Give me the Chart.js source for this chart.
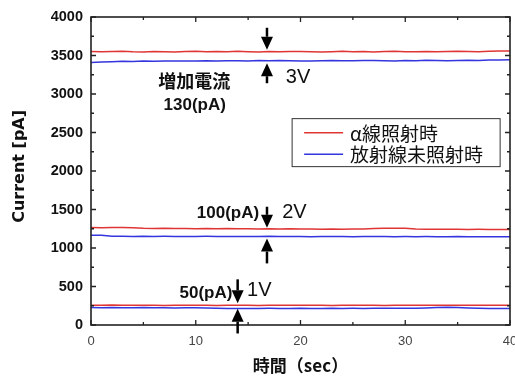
<!DOCTYPE html>
<html>
<head>
<meta charset="utf-8">
<script src="https://cdn.jsdelivr.net/npm/chart.js@4"></script>
<style>
  html, body { margin: 0; padding: 0; background: #fff; }
  #wrap { width: 515px; height: 376px; }
</style>
</head>
<body>
<div id="wrap"><canvas id="chart"></canvas></div>
<script>
// time axis (sec), one reading per second
const times = [0,1,2,3,4,5,6,7,8,9,10,11,12,13,14,15,16,17,18,19,20,21,22,23,24,25,26,27,28,29,30,31,32,33,34,35,36,37,38,39,40];

// 3V
const alpha3V = [3552,3548,3551,3555,3549,3547,3553,3550,3546,3552,3556,3549,3551,3548,3554,3550,3547,3552,3549,3553,3551,3548,3545,3550,3554,3549,3552,3547,3551,3555,3550,3548,3553,3549,3551,3556,3552,3549,3554,3557,3558];
const dark3V  = [3408,3415,3420,3424,3423,3427,3425,3429,3428,3430,3427,3432,3430,3433,3431,3429,3434,3432,3436,3433,3430,3428,3432,3435,3433,3431,3434,3436,3432,3430,3435,3433,3437,3434,3432,3436,3438,3435,3440,3442,3445];
// 2V
const alpha2V = [1266,1264,1267,1265,1262,1255,1253,1256,1252,1254,1251,1253,1250,1252,1249,1251,1248,1250,1247,1249,1246,1248,1245,1247,1244,1246,1248,1254,1256,1255,1257,1246,1243,1244,1242,1243,1241,1242,1240,1241,1240];
const dark2V  = [1165,1164,1152,1151,1150,1152,1149,1151,1150,1148,1150,1151,1149,1150,1148,1150,1149,1151,1148,1150,1149,1147,1150,1148,1149,1147,1149,1148,1150,1147,1148,1146,1148,1147,1145,1148,1146,1147,1145,1147,1146];
// 1V
const alpha1V = [258,256,259,257,255,258,256,254,257,255,258,256,254,257,255,256,254,257,255,256,258,255,257,254,256,255,257,256,254,256,255,257,256,258,256,255,257,256,255,257,258];
const dark1V  = [226,224,227,225,223,226,224,225,222,224,223,220,216,214,213,215,214,216,215,213,216,214,215,217,214,216,215,217,216,218,219,217,221,227,229,226,221,217,215,214,213];

const labelAlpha = "α線照射時";
const labelDark = "放射線未照射時";
const yTicks = [0, 500, 1000, 1500, 2000, 2500, 3000, 3500, 4000];
const xTicks = [0, 10, 20, 30, 40];

const RED = "#e03535";
const BLUE = "#3535e0";

// annotation arrows: x in sec, from/to in pA (arrow points at "to")
const arrows = [
  { x: 16.8, from: 3860, to: 3575 },
  { x: 16.8, from: 3140, to: 3400 },
  { x: 16.8, from: 1536, to: 1262 },
  { x: 16.8, from: 800, to: 1122 },
  { x: 14, from: 593, to: 282 },
  { x: 14, from: -110, to: 212 }
];
const BOLD_NUM = "bold 17px 'Liberation Sans', Arial, sans-serif";
const VOLT = "20px 'Liberation Sans', Arial, sans-serif";
const notes = [
  { text: "増加電流", x: 9.85, y: 3162, align: "center", font: "bold 18px 'Noto Sans CJK JP', sans-serif" },
  { text: "130(pA)", x: 9.9, y: 2850, align: "center", font: BOLD_NUM },
  { text: "3V", x: 18.6, y: 3208, align: "left", font: VOLT },
  { text: "100(pA)", x: 16.05, y: 1448, align: "right", font: BOLD_NUM },
  { text: "2V", x: 18.25, y: 1460, align: "left", font: VOLT },
  { text: "50(pA)", x: 13.5, y: 415, align: "right", font: BOLD_NUM },
  { text: "1V", x: 14.9, y: 450, align: "left", font: VOLT }
];

function series(vals) {
  return vals.map((v, i) => ({ x: times[i], y: v }));
}

function line(label, vals, color) {
  return {
    label: label,
    data: series(vals),
    borderColor: color,
    backgroundColor: color,
    borderWidth: 1.5,
    pointRadius: 0,
    tension: 0
  };
}

const frameAndNotes = {
  id: "frameAndNotes",
  afterDatasetsDraw(chart) {
    const ctx = chart.ctx;
    const a = chart.chartArea;
    const xs = chart.scales.x;
    const ys = chart.scales.y;
    ctx.save();

    // frame
    ctx.strokeStyle = "#222";
    ctx.lineWidth = 1.6;
    ctx.strokeRect(a.left, a.top, a.right - a.left, a.bottom - a.top);

    // inward ticks on all four sides
    ctx.lineWidth = 1.3;
    ctx.beginPath();
    for (let v = 0; v <= 4000; v += 250) {
      const p = ys.getPixelForValue(v);
      const len = v % 500 === 0 ? 5 : 3;
      ctx.moveTo(a.left, p); ctx.lineTo(a.left + len, p);
      ctx.moveTo(a.right, p); ctx.lineTo(a.right - len, p);
    }
    for (let v = 0; v <= 40; v += 5) {
      const p = xs.getPixelForValue(v);
      const len = v % 10 === 0 ? 5 : 3;
      ctx.moveTo(p, a.bottom); ctx.lineTo(p, a.bottom - len);
      ctx.moveTo(p, a.top); ctx.lineTo(p, a.top + len);
    }
    ctx.stroke();

    // arrows
    ctx.strokeStyle = "#000";
    ctx.fillStyle = "#000";
    arrows.forEach(ar => {
      const px = xs.getPixelForValue(ar.x);
      const y0 = ys.getPixelForValue(ar.from);
      const y1 = ys.getPixelForValue(ar.to);
      const dir = y1 > y0 ? 1 : -1;
      const head = 13;
      ctx.lineWidth = 2.5;
      ctx.beginPath();
      ctx.moveTo(px, y0);
      ctx.lineTo(px, y1 - dir * head);
      ctx.stroke();
      ctx.beginPath();
      ctx.moveTo(px, y1);
      ctx.lineTo(px - 6, y1 - dir * head);
      ctx.lineTo(px + 6, y1 - dir * head);
      ctx.closePath();
      ctx.fill();
    });

    // text notes
    ctx.textBaseline = "middle";
    notes.forEach(n => {
      ctx.font = n.font;
      ctx.textAlign = n.align;
      ctx.fillStyle = "#111";
      ctx.fillText(n.text, xs.getPixelForValue(n.x), ys.getPixelForValue(n.y));
    });

    // y axis title
    ctx.save();
    ctx.translate(20, ys.getPixelForValue(2060));
    ctx.rotate(-Math.PI / 2);
    ctx.textAlign = "center";
    ctx.font = "bold 16px 'DejaVu Sans', sans-serif";
    ctx.fillText("Current [pA]", 0, 0);
    ctx.restore();

    // legend box
    const lx = xs.getPixelForValue(19.2), ly = ys.getPixelForValue(2680);
    const lw = 208, lh = 48;
    ctx.fillStyle = "#fff";
    ctx.fillRect(lx, ly, lw, lh);
    ctx.strokeStyle = "#333";
    ctx.lineWidth = 1;
    ctx.strokeRect(lx, ly, lw, lh);
    const rows = [chart.data.datasets[0], chart.data.datasets[1]];
    rows.forEach((ds, i) => {
      const ry = ly + 14 + i * 21.5;
      ctx.strokeStyle = ds.borderColor;
      ctx.lineWidth = 1.5;
      ctx.beginPath();
      ctx.moveTo(lx + 12, ry);
      ctx.lineTo(lx + 51, ry);
      ctx.stroke();
      ctx.fillStyle = "#111";
      ctx.textAlign = "left";
      ctx.font = "19px 'Noto Sans CJK JP', sans-serif";
      ctx.fillText(ds.label, lx + 58, ry + 1);
    });

    ctx.restore();
  }
};

new Chart(document.getElementById("chart"), {
  type: "line",
  data: {
    datasets: [
      line(labelAlpha, alpha3V, RED),
      line(labelDark, dark3V, BLUE),
      line(labelAlpha, alpha2V, RED),
      line(labelDark, dark2V, BLUE),
      line(labelAlpha, alpha1V, RED),
      line(labelDark, dark1V, BLUE)
    ]
  },
  options: {
    responsive: true,
    maintainAspectRatio: false,
    animation: false,
    layout: { padding: { top: 17, right: 5, left: 0, bottom: 0 } },
    plugins: {
      legend: { display: false },
      tooltip: { enabled: false }
    },
    scales: {
      x: {
        type: "linear",
        min: 0,
        max: 40,
        afterBuildTicks: s => { s.ticks = xTicks.map(v => ({ value: v })); },
        ticks: {
          color: "#444",
          font: { family: "'Liberation Sans', Arial, sans-serif", size: 13 },
          padding: 9,
          maxRotation: 0,
          autoSkip: false,
          callback: v => String(v)
        },
        grid: { display: false, drawTicks: false },
        border: { display: false },
        title: {
          display: true,
          text: "時間（sec）",
          color: "#111",
          font: { family: "'Noto Sans CJK JP', sans-serif", size: 17, weight: "bold" },
          padding: { top: 0, bottom: 0 }
        },
        afterFit: s => { s.height = 51; s.paddingLeft = 0; s.paddingRight = 0; }
      },
      y: {
        min: 0,
        max: 4000,
        afterBuildTicks: s => { s.ticks = yTicks.map(v => ({ value: v })); },
        ticks: {
          color: "#111",
          font: { family: "'Liberation Sans', Arial, sans-serif", size: 14.5, weight: "bold" },
          padding: 8,
          autoSkip: false,
          callback: v => String(v)
        },
        grid: { display: false, drawTicks: false },
        border: { display: false },
        afterFit: s => { s.width = 91; s.paddingTop = 0; s.paddingBottom = 0; }
      }
    }
  },
  plugins: [frameAndNotes]
});
</script>
</body>
</html>
